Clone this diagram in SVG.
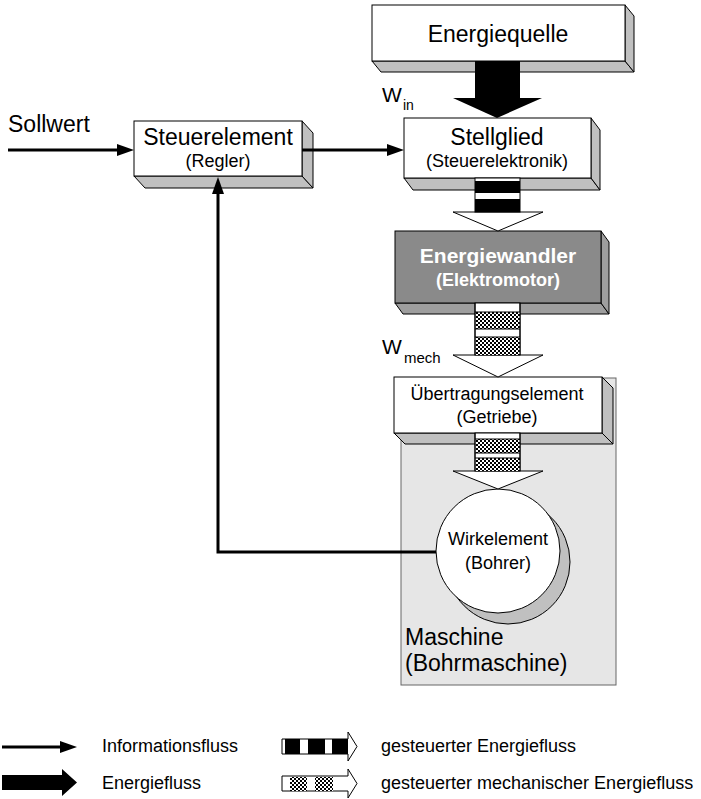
<svg xmlns="http://www.w3.org/2000/svg" width="701" height="799" viewBox="0 0 701 799">
<style>
text{font-family:"Liberation Sans",Arial,sans-serif;fill:#000}
.front{fill:#fff;stroke:#000;stroke-width:1}
.shade{fill:#c0c0c0;stroke:#000;stroke-width:1}
.dfront{fill:#8a8a8a;stroke:#000;stroke-width:1}
.dshade{fill:#9e9e9e;stroke:#000;stroke-width:1}
.big{font-size:23px}
.small{font-size:18px}
.mid{font-size:18px}
.info{fill:none;stroke:#000;stroke-width:3}
.ashaft{fill:#fff;stroke:#000;stroke-width:1}
.blk{fill:#000}
.chk{fill:url(#chk)}
</style>
<defs>
<pattern id="chk" width="4" height="4" patternUnits="userSpaceOnUse">
<rect width="4" height="4" fill="#fff"/>
<rect width="2" height="2" fill="#000"/>
<rect x="2" y="2" width="2" height="2" fill="#000"/>
</pattern>
<marker id="ah" viewBox="0 0 17 12" refX="9" refY="6" markerWidth="17" markerHeight="12" orient="auto" markerUnits="userSpaceOnUse">
<path d="M0,0 L17,6 L0,12 z" fill="#000"/>
</marker>
</defs>

<g id="maschine">
<rect x="401" y="378" width="215" height="307" fill="#e6e6e6" stroke="#666" stroke-width="1"/>
<text x="405" y="645" class="big">Maschine</text>
<text x="405" y="671" class="big">(Bohrmaschine)</text>
</g>

<g id="energiequelle">
<polygon class="shade" points="372,61 625,61 634,72 381,72"/>
<polygon class="shade" points="625,5 634,16 634,72 625,61"/>
<rect class="front" x="372" y="5" width="253" height="56"/>
<text x="498" y="42" class="big" text-anchor="middle">Energiequelle</text>
</g>

<g id="stellglied">
<polygon class="shade" points="404,178 591,178 600,190 413,190"/>
<polygon class="shade" points="591,118 600,130 600,190 591,178"/>
<rect class="front" x="404" y="118" width="187" height="60"/>
<text x="497" y="145" class="big" text-anchor="middle">Stellglied</text>
<text x="497" y="167" class="small" text-anchor="middle">(Steuerelektronik)</text>
</g>

<g id="steuerelement">
<polygon class="shade" points="134,176 302,176 313,188 145,188"/>
<polygon class="shade" points="302,121 313,133 313,188 302,176"/>
<rect class="front" x="134" y="121" width="168" height="55"/>
<text x="218" y="145" class="big" text-anchor="middle">Steuerelement</text>
<text x="218" y="167" class="small" text-anchor="middle">(Regler)</text>
</g>

<g id="energiewandler">
<polygon class="dshade" points="395,303 601,303 609,314 403,314"/>
<polygon class="dshade" points="601,231 609,242 609,314 601,303"/>
<rect class="dfront" x="395" y="231" width="206" height="72"/>
<text x="498" y="263" font-size="21" font-weight="bold" text-anchor="middle" style="fill:#fff">Energiewandler</text>
<text x="498" y="286" font-size="18" font-weight="bold" text-anchor="middle" style="fill:#fff">(Elektromotor)</text>
</g>

<g id="uebertragungselement">
<polygon class="shade" points="394,433 602,433 613,444 405,444"/>
<polygon class="shade" points="602,377 613,388 613,444 602,433"/>
<rect class="front" x="394" y="377" width="208" height="56"/>
<text x="497" y="400" class="mid" text-anchor="middle">Übertragungselement</text>
<text x="497" y="423" class="mid" text-anchor="middle">(Getriebe)</text>
</g>

<g id="wirkelement">
<circle cx="508" cy="562" r="62" class="shade"/>
<circle cx="498" cy="551" r="62" class="front"/>
<text x="498" y="545" class="mid" text-anchor="middle">Wirkelement</text>
<text x="498" y="569" class="mid" text-anchor="middle">(Bohrer)</text>
</g>

<g id="connectors">
<polygon class="blk" points="475,61 520,61 520,98 542,98 497,118 453,98 475,98"/>
<text x="382" y="102" font-size="21">W</text>
<text x="403" y="110" font-size="14">in</text>

<polygon class="ashaft" points="453,212 543,212 498,231"/>
<rect class="ashaft" x="475" y="178" width="45" height="34"/>
<rect class="blk" x="475" y="181" width="45" height="12"/>
<rect class="blk" x="475" y="199" width="45" height="13"/>

<polygon class="ashaft" points="453,355 543,355 498,377"/>
<rect class="ashaft" x="475" y="303" width="45" height="52"/>
<rect class="chk" x="476" y="312" width="44" height="17"/>
<rect class="chk" x="476" y="337" width="44" height="18"/>
<line x1="475" y1="303" x2="475" y2="355" stroke="#000"/>
<line x1="520" y1="303" x2="520" y2="355" stroke="#000"/>
<line x1="475" y1="312" x2="520" y2="312" stroke="#000"/>
<line x1="475" y1="329" x2="520" y2="329" stroke="#000"/>
<line x1="475" y1="337" x2="520" y2="337" stroke="#000"/>
<text x="382" y="354" font-size="21">W</text>
<text x="404" y="363" font-size="15">mech</text>

<polygon class="ashaft" points="453,471 543,471 498,489"/>
<rect class="ashaft" x="475" y="433" width="45" height="38"/>
<rect class="chk" x="476" y="439" width="44" height="14"/>
<rect class="chk" x="476" y="458" width="44" height="13"/>
<line x1="475" y1="433" x2="475" y2="471" stroke="#000"/>
<line x1="520" y1="433" x2="520" y2="471" stroke="#000"/>
<line x1="475" y1="439" x2="520" y2="439" stroke="#000"/>
<line x1="475" y1="453" x2="520" y2="453" stroke="#000"/>
<line x1="475" y1="458" x2="520" y2="458" stroke="#000"/>

<text x="8" y="132" class="big">Sollwert</text>
<path class="info" d="M8,150 H126" marker-end="url(#ah)"/>
<path class="info" d="M302,150 H396" marker-end="url(#ah)"/>
<path class="info" d="M436,552 H218 V185" marker-end="url(#ah)"/>
</g>

<g id="legend">
<path class="info" d="M2,747 H69" marker-end="url(#ah)"/>
<text x="102" y="752" class="mid">Informationsfluss</text>
<polygon class="blk" points="2,775 62,775 62,769 77,782.5 62,796 62,790 2,790"/>
<text x="102" y="789" class="mid">Energiefluss</text>

<polygon class="ashaft" points="282,739 348,739 348,732 357,746.5 348,761 348,754 282,754"/>
<rect class="blk" x="285" y="739" width="15" height="15"/>
<rect class="blk" x="308" y="739" width="17" height="15"/>
<rect class="blk" x="332" y="739" width="16" height="15"/>
<text x="381" y="752" class="mid">gesteuerter Energiefluss</text>

<polygon class="ashaft" points="282,776 348,776 348,769 357,783.5 348,798 348,791 282,791"/>
<rect class="chk" x="290" y="777" width="17" height="14"/>
<rect class="chk" x="315" y="777" width="18" height="14"/>
<text x="381" y="789" class="mid">gesteuerter mechanischer Energiefluss</text>
</g>
</svg>
